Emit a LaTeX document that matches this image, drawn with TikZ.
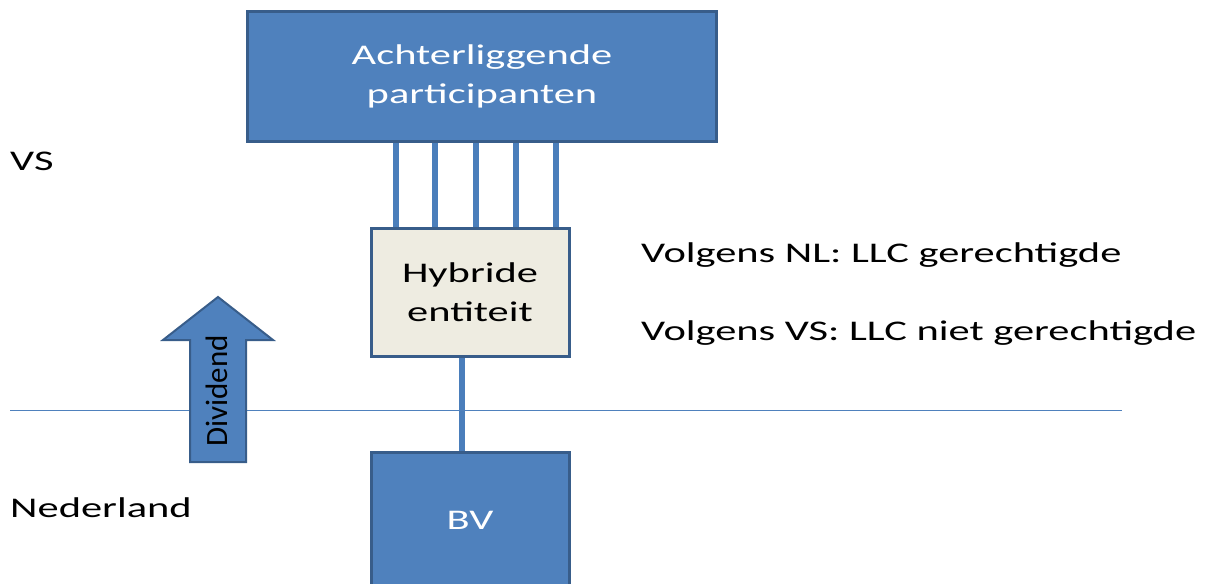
\documentclass[tikz,border=0pt]{standalone}
\usepackage{fontspec}
\setmainfont[FakeStretch=1.49]{Carlito}
\newfontfamily\plainfont{Carlito}
\usetikzlibrary{positioning}
\usetikzlibrary{calc}
\usetikzlibrary{backgrounds}
\definecolor{boxblue}{HTML}{4F81BD}
\definecolor{boxedge}{HTML}{385D8A}
\definecolor{linkblue}{HTML}{4A7EBB}
\definecolor{beige}{HTML}{EEECE1}

\begin{document}
\begin{tikzpicture}[x=1pt,y=-1pt,font=\fontsize{28.5}{39}\selectfont]
\tikzstyle{block} = [rectangle, draw=boxedge, line width=3pt, fill=boxblue,
text=white, align=center, inner sep=0pt]
\tikzstyle{hybrid} = [block, fill=beige, text=black]
\tikzstyle{link} = [draw=linkblue, line width=6pt]
\tikzstyle{label} = [anchor=base west, inner sep=0pt]
\useasboundingbox (0,0) rectangle (1206,583);
\clip (0,0) rectangle (1206,583);
% border VS / NL
\coordinate (grensL) at (10,410);
\coordinate (grensR) at (1122,410);
\draw[boxblue, line width=1pt] (grensL) -- (grensR);
% boxes
\node [block, minimum width=469pt, minimum height=130pt] (participants) at (482,76.5) {Achterliggende\\participanten};
\node [hybrid, minimum width=198pt, minimum height=128pt] (hybride) at (470,292) {Hybride\\entiteit};
\node [block, minimum width=198pt, minimum height=136pt] (bv) at (470,520) {BV};
% connections
\begin{scope}[on background layer]
\foreach \x [count=\i] in {396,435,476,516,556} {
  \coordinate (p\i) at (\x,143);
  \draw[link] (p\i |- participants.south) -- (p\i |- hybride.north);
}
\coordinate (stam) at (462,400);
\draw[link] (stam |- hybride.south) -- (stam |- bv.north);
\end{scope}
% dividend arrow
\draw[boxedge, line width=2pt, fill=boxblue] (163,340) -- (218,297) -- (273,340) -- (246,340)
  -- (246,462) -- (190,462) -- (190,340) -- cycle;
\node [rotate=90, inner sep=0pt, font=\plainfont\fontsize{31}{36}\selectfont] (dividend) at (217,391) {Dividend};
% labels
\node [label] (vs) at (10,170) {VS};
\node [label] (nl) at (10,517) {Nederland};
\node [label] (volgensnl) at (641,262) {Volgens NL: LLC gerechtigde};
\node [label] (volgensvs) at (641,340) {Volgens VS: LLC niet gerechtigde};
\end{tikzpicture}
\end{document}
